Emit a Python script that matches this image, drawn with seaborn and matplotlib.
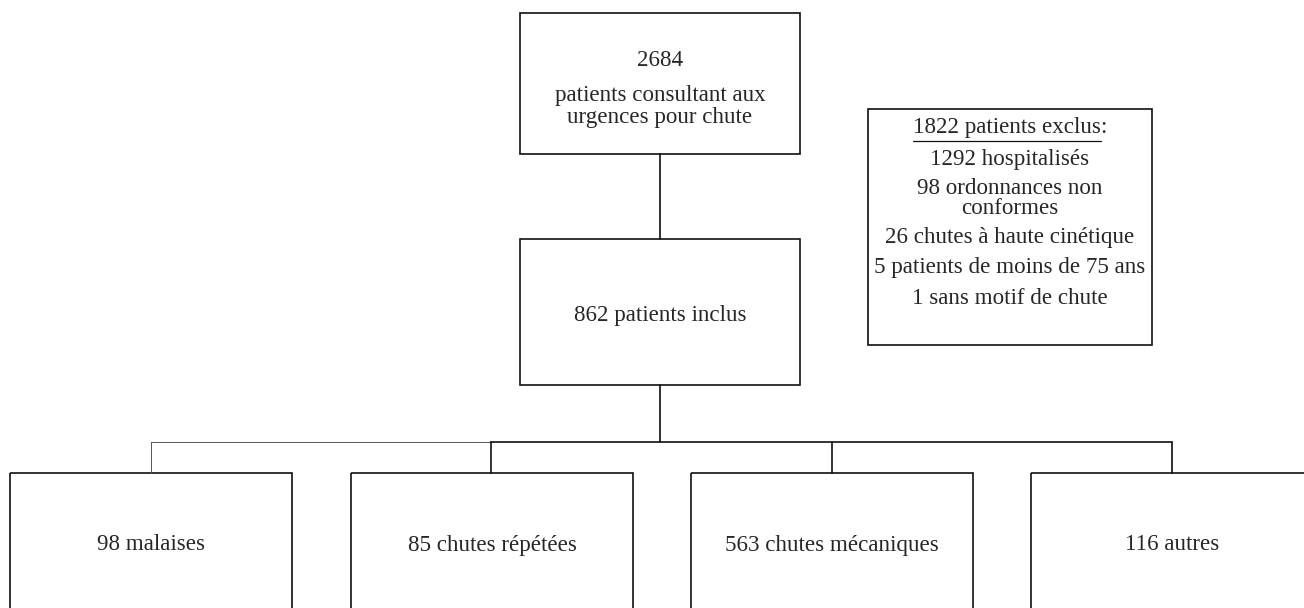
import matplotlib
matplotlib.use("Agg")
import matplotlib.pyplot as plt
import seaborn as sns
import pandas as pd
from matplotlib.patches import Rectangle

# ---- data ----
total_n = 2684
total_label = ["patients consultant aux", "urgences pour chute"]
included_n = 862
included_label = "patients inclus"
excluded_n = 1822
excluded_title = "patients exclus"
excluded_lines = ["1292 hospitalisés", "98 ordonnances non", "conformes",
                  "26 chutes à haute cinétique", "5 patients de moins de 75 ans",
                  "1 sans motif de chute"]
categories = ["malaises", "chutes répétées", "chutes mécaniques", "autres"]
counts = [98, 85, 563, 116]

sns.set_theme(style="white")
plt.rcParams["font.family"] = ["Liberation Serif", "DejaVu Serif"]

W, H = 1304, 608
fig = plt.figure(figsize=(W / 100, H / 100), dpi=100)
ax = fig.add_axes([0, 0, 1, 1])
ax.set_xlim(0, W)
ax.set_ylim(H, 0)
ax.axis("off")

LC = "#111111"
LW = 1.2
FS = 16.6
DY = 2

def box(x0, y0, x1, y1):
    ax.add_patch(Rectangle((x0, y0), x1 - x0, y1 - y0, fill=False,
                           edgecolor=LC, linewidth=LW))

def seg(xs, ys, lw=LW, color=LC):
    df = pd.DataFrame({"x": xs, "y": ys})
    sns.lineplot(data=df, x="x", y="y", ax=ax, color=color, linewidth=lw,
                 sort=False, estimator=None)

def txt(x, y, s):
    return ax.text(x, y + DY, s, ha="center", va="center", fontsize=FS)

# top box
box(520, 13, 800, 154)
txt(660, 59, str(total_n))
txt(660, 93, total_label[0])
txt(660, 116, total_label[1])

# connector top -> middle
seg([660, 660], [154, 239])

# middle box
box(520, 239, 800, 385)
txt(660, 313, f"{included_n} {included_label}")

# exclusion box
box(868, 109, 1152, 345)
cx = 1010
title = f"{excluded_n} {excluded_title}:"
t = txt(cx, 126, title)
ys = [158, 187, 207, 236, 266, 296]
for line, y in zip(excluded_lines, ys):
    txt(cx, y, line)

# underline title (without colon)
fig.canvas.draw()
r = fig.canvas.get_renderer()
bb = t.get_window_extent(r)
tmp = ax.text(0, 0, ":", fontsize=FS)
cw = tmp.get_window_extent(r).width
tmp.remove()
ax.plot([bb.x0, bb.x1 - cw], [141, 141], color=LC, linewidth=0.9)

# connector middle -> branches
seg([660, 660], [385, 442])
xs_centers = [151, 491, 832, 1172]
seg([151, 491], [442, 442], lw=0.7, color="#555555")
seg([491, 1172], [442, 442])
box_l = [10, 351, 691, 1031]
for xc, xl, c, n in zip(xs_centers, box_l, categories, counts):
    seg([xc, xc], [442, 473], lw=(0.7 if xc == 151 else LW),
        color=("#555555" if xc == 151 else LC))
    box(xl, 473, xl + 282, 640)
    txt(xl + 141, 543, f"{n} {c}")

ax.set_xlim(0, W)
ax.set_ylim(H, 0)
ax.set_xlabel("")
ax.set_ylabel("")
fig.savefig("out.png", dpi=100)
